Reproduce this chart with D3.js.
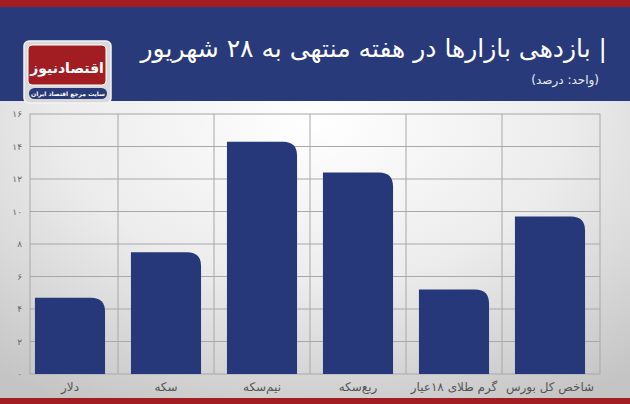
<!DOCTYPE html>
<html><head><meta charset="utf-8">
<script src="https://cdn.jsdelivr.net/npm/d3@7/dist/d3.min.js"></script>
<style>body{margin:0;padding:0;overflow:hidden}svg{display:block}</style>
</head><body>
<script>
const categories = ["دلار","سکه","نیم‌سکه","ربع‌سکه","گرم طلای ۱۸عیار","شاخص کل بورس"];
const values = [4.7, 7.5, 14.3, 12.4, 5.2, 9.7];
const tickValues = [0,2,4,6,8,10,12,14,16];
const tickLabels = ["۰","۲","۴","۶","۸","۱۰","۱۲","۱۴","۱۶"];
const title = "| بازدهی بازارها در هفته منتهی به ۲۸ شهریور";
const subtitle = "(واحد: درصد)";

const W = 630, H = 404;
const svg = d3.select("body").append("svg").attr("width", W).attr("height", H);
const defs = svg.append("defs");
const rg = defs.append("radialGradient").attr("id","bg").attr("cx","0.5").attr("cy","0.3").attr("r","0.8");
rg.append("stop").attr("offset","0").attr("stop-color","#ffffff");
rg.append("stop").attr("offset","0.5").attr("stop-color","#ececec");
rg.append("stop").attr("offset","1").attr("stop-color","#c4c4c4");

svg.append("rect").attr("width",W).attr("height",H).attr("fill","url(#bg)");
// header
svg.append("rect").attr("x",0).attr("y",0).attr("width",W).attr("height",101).attr("fill","#283a7a");
svg.append("rect").attr("x",0).attr("y",0).attr("width",W).attr("height",7).attr("fill","#a11d22");
svg.append("rect").attr("x",0).attr("y",398).attr("width",W).attr("height",6).attr("fill","#a11d22");

svg.append("text").attr("x",607).attr("y",57).attr("text-anchor","start").attr("direction","rtl")
  .attr("font-family","DejaVu Sans").attr("font-size",25).attr("fill","#fff").text(title);
svg.append("text").attr("x",599).attr("y",84).attr("text-anchor","start").attr("direction","rtl")
  .attr("font-family","DejaVu Sans").attr("font-size",12).attr("fill","#e8ecf5").text(subtitle);

// logo
const lg = svg.append("g");
lg.append("rect").attr("x",24).attr("y",41).attr("width",87).attr("height",62).attr("rx",5).attr("fill","#d9d9d9").attr("stroke","#f4f4f4").attr("stroke-width",1.5);
lg.append("rect").attr("x",28).attr("y",45).attr("width",78).attr("height",40).attr("rx",4).attr("fill","#a11d22").attr("stroke","#fff").attr("stroke-width",1);
lg.append("text").attr("x",67).attr("y",73).attr("text-anchor","middle").attr("direction","rtl")
  .attr("font-family","DejaVu Sans").attr("font-weight","bold").attr("font-size",14).attr("fill","#fff").text("اقتصادنیوز");
lg.append("rect").attr("x",29).attr("y",88).attr("width",78).attr("height",11).attr("rx",5.5).attr("fill","#283a7a");
lg.append("text").attr("x",68).attr("y",96).attr("text-anchor","middle").attr("direction","rtl")
  .attr("font-family","DejaVu Sans").attr("font-weight","bold").attr("font-size",6).attr("fill","#fff").text("سایت مرجع اقتصاد ایران");

// chart
const plotL = 30, plotR = 600, y0 = 374, y1 = 114;
const y = d3.scaleLinear().domain([0,16]).range([y0,y1]);
const x = d3.scaleBand().domain(categories).range([22,598]).paddingInner(0.27).paddingOuter(0.135);

const g = svg.append("g");
g.append("rect").attr("x",plotL).attr("y",y1).attr("width",plotR-plotL).attr("height",y0-y1)
  .attr("fill","none").attr("stroke","#a8a8a8").attr("stroke-width",1);
g.selectAll(".hg").data(tickValues.slice(1,-1)).join("line")
  .attr("x1",plotL).attr("x2",plotR).attr("y1",d=>y(d)).attr("y2",d=>y(d))
  .attr("stroke","#a8a8a8").attr("stroke-width",1);
g.selectAll(".vg").data(categories.slice(1)).join("line")
  .attr("x1",d=>x(d)-x.step()*x.paddingInner()/2).attr("x2",d=>x(d)-x.step()*x.paddingInner()/2)
  .attr("y1",y1).attr("y2",y0).attr("stroke","#a8a8a8").attr("stroke-width",1);

// y axis labels
const ya = d3.axisLeft(y).tickValues(tickValues).tickFormat((d,i)=>tickLabels[i]).tickSize(0).tickPadding(8);
const yg = svg.append("g").attr("transform",`translate(${plotL},0)`).call(ya);
yg.select(".domain").remove();
yg.selectAll("text").attr("font-family","DejaVu Sans").attr("font-size",9).attr("fill","#666");

// bars with rounded top-right corner
const r = 14;
g.selectAll(".bar").data(values).join("path")
  .attr("fill","#26387a")
  .attr("d",(v,i)=>{
    const bx = x(categories[i]), bw = x.bandwidth(), top = y(v), bot = y(0);
    const rr = Math.min(r, bot-top);
    return `M${bx},${bot}L${bx},${top}L${bx+bw-rr},${top}Q${bx+bw},${top} ${bx+bw},${top+rr}L${bx+bw},${bot}Z`;
  });

// x axis labels
const xa = d3.axisBottom(x).tickSize(0).tickPadding(8);
const xg = svg.append("g").attr("transform",`translate(0,${y0})`).call(xa);
xg.select(".domain").remove();
xg.selectAll("text").attr("font-family","DejaVu Sans").attr("font-size",12).attr("fill","#555").attr("direction","rtl");
</script>
</body></html>
